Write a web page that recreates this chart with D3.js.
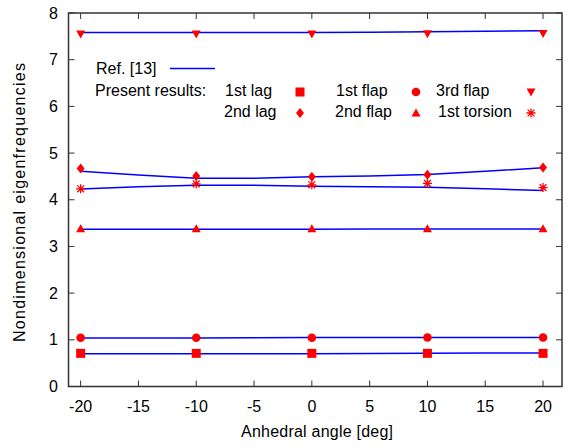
<!DOCTYPE html>
<html>
<head>
<meta charset="utf-8">
<script src="https://cdn.jsdelivr.net/npm/d3@7"></script>
<style>
  body { margin: 0; background: #fff; }
  svg { display: block; font-family: "Liberation Sans", Arial, sans-serif; }
</style>
</head>
<body>
<svg id="chart" width="568" height="446"></svg>
<script>
// angles for present results and for the reference curves
const angles = [-20, -10, 0, 10, 20];
const refAngles = [-20, -15, -10, -5, 0, 5, 10, 15, 20];

// Ref. [13] (blue lines)
const refLag1 = [0.70, 0.70, 0.70, 0.70, 0.70, 0.705, 0.71, 0.715, 0.72];
const refFlap1 = [1.04, 1.04, 1.04, 1.045, 1.05, 1.05, 1.05, 1.05, 1.05];
const refFlap2 = [3.37, 3.37, 3.37, 3.37, 3.37, 3.375, 3.375, 3.375, 3.375];
const refTors1 = [4.23, 4.28, 4.31, 4.31, 4.29, 4.28, 4.27, 4.235, 4.20];
const refLag2 = [4.61, 4.53, 4.46, 4.46, 4.49, 4.51, 4.54, 4.61, 4.685];
const refFlap3 = [7.585, 7.585, 7.585, 7.585, 7.585, 7.59, 7.60, 7.61, 7.62];

// Present results (red markers)
const presLag1 = [0.71, 0.71, 0.71, 0.71, 0.71];
const presFlap1 = [1.045, 1.045, 1.045, 1.05, 1.05];
const presFlap2 = [3.38, 3.38, 3.38, 3.38, 3.38];
const presTors1 = [4.235, 4.34, 4.32, 4.35, 4.26];
const presLag2 = [4.67, 4.51, 4.49, 4.535, 4.69];
const presFlap3 = [7.55, 7.55, 7.55, 7.555, 7.56];

const xTicks = [-20, -15, -10, -5, 0, 5, 10, 15, 20];
const yTicks = [0, 1, 2, 3, 4, 5, 6, 7, 8];

const svg = d3.select("#chart");
const plotL = 68.5, plotR = 562, plotT = 13, plotB = 386.5;

const x = d3.scaleLinear().domain([-21.05, 21.64]).range([plotL, plotR]);
const y = d3.scaleLinear().domain([0, 8]).range([plotB, plotT]);

const frameColor = "#333";

// ticks (inward, mirrored)
const tk = 6;
const tg = svg.append("g").attr("stroke", frameColor).attr("stroke-width", 1);
xTicks.forEach(v => {
    tg.append("line").attr("x1", x(v)).attr("x2", x(v)).attr("y1", plotB).attr("y2", plotB - tk);
    tg.append("line").attr("x1", x(v)).attr("x2", x(v)).attr("y1", plotT).attr("y2", plotT + tk);
});
yTicks.forEach(v => {
    tg.append("line").attr("x1", plotL).attr("x2", plotL + tk).attr("y1", y(v)).attr("y2", y(v));
    tg.append("line").attr("x1", plotR).attr("x2", plotR - tk).attr("y1", y(v)).attr("y2", y(v));
});

svg.append("rect")
    .attr("x", plotL).attr("y", plotT)
    .attr("width", plotR - plotL).attr("height", plotB - plotT)
    .attr("fill", "none").attr("stroke", frameColor).attr("stroke-width", 1.5);

// tick labels
svg.append("g").selectAll("text").data(xTicks).join("text")
    .attr("x", d => x(d)).attr("y", 412)
    .attr("text-anchor", "middle").attr("font-size", 16).attr("fill", "#000")
    .text(d => d);
svg.append("g").selectAll("text").data(yTicks).join("text")
    .attr("x", 58).attr("y", d => y(d) + 5.5)
    .attr("text-anchor", "end").attr("font-size", 16).attr("fill", "#000")
    .text(d => d);

// axis titles
svg.append("text")
    .attr("x", 317).attr("y", 437)
    .attr("text-anchor", "middle").attr("font-size", 16)
    .attr("textLength", 152).attr("lengthAdjust", "spacing")
    .text("Anhedral angle [deg]");
svg.append("text")
    .attr("transform", "translate(25,202.5) rotate(-90)")
    .attr("text-anchor", "middle").attr("font-size", 16)
    .attr("textLength", 279).attr("lengthAdjust", "spacing")
    .text("Nondimensional eigenfrequencies");

// reference lines
const line = d3.line().x(d => x(d[0])).y(d => y(d[1]));
[refLag1, refFlap1, refFlap2, refTors1, refLag2, refFlap3].forEach(vals => {
    svg.append("path")
        .datum(refAngles.map((a, i) => [a, vals[i]]))
        .attr("d", line)
        .attr("fill", "none").attr("stroke", "#0000ff").attr("stroke-width", 1.5);
});

// marker drawing
function drawMarker(g, type, cx, cy) {
    const red = "#ff0000";
    if (type === "square") {
        g.append("rect").attr("x", cx - 4.5).attr("y", cy - 4.5).attr("width", 9).attr("height", 9).attr("fill", red);
    } else if (type === "circle") {
        g.append("circle").attr("cx", cx).attr("cy", cy).attr("r", 4.3).attr("fill", red);
    } else if (type === "triUp") {
        g.append("path").attr("d", `M${cx},${cy - 4.5}L${cx + 4.5},${cy + 3.5}L${cx - 4.5},${cy + 3.5}Z`).attr("fill", red);
    } else if (type === "triDown") {
        g.append("path").attr("d", `M${cx},${cy + 4.5}L${cx + 4.5},${cy - 3.5}L${cx - 4.5},${cy - 3.5}Z`).attr("fill", red);
    } else if (type === "diamond") {
        g.append("path").attr("d", `M${cx},${cy - 5}L${cx + 4},${cy}L${cx},${cy + 5}L${cx - 4},${cy}Z`).attr("fill", red);
    } else if (type === "star") {
        const r = 4.5, d = 3.4;
        const p = `M${cx - r},${cy}L${cx + r},${cy}M${cx},${cy - r}L${cx},${cy + r}` +
            `M${cx - d},${cy - d}L${cx + d},${cy + d}M${cx - d},${cy + d}L${cx + d},${cy - d}`;
        g.append("path").attr("d", p).attr("stroke", red).attr("stroke-width", 1.3).attr("fill", "none");
    }
}

const series = [
    { vals: presLag1, type: "square" },
    { vals: presFlap1, type: "circle" },
    { vals: presFlap2, type: "triUp" },
    { vals: presTors1, type: "star" },
    { vals: presLag2, type: "diamond" },
    { vals: presFlap3, type: "triDown" }
];
const mg = svg.append("g");
series.forEach(s => {
    angles.forEach((a, i) => drawMarker(mg, s.type, x(a), y(s.vals[i])));
});

// legend
const lg = svg.append("g").attr("font-size", 16).attr("fill", "#000");
lg.append("text").attr("x", 96).attr("y", 74).text("Ref. [13]");
lg.append("line").attr("x1", 170).attr("x2", 215).attr("y1", 68.5).attr("y2", 68.5)
    .attr("stroke", "#0000ff").attr("stroke-width", 1.5);
lg.append("text").attr("x", 95).attr("y", 96).text("Present results:");

const legendItems = [
    { label: "1st lag", tx: 225, mx: 300, row: 0, type: "square" },
    { label: "1st flap", tx: 336, mx: 416, row: 0, type: "circle" },
    { label: "3rd flap", tx: 436, mx: 531, row: 0, type: "triDown" },
    { label: "2nd lag", tx: 224, mx: 300, row: 1, type: "diamond" },
    { label: "2nd flap", tx: 335, mx: 416, row: 1, type: "triUp" },
    { label: "1st torsion", tx: 438, mx: 531, row: 1, type: "star" }
];
legendItems.forEach(it => {
    const by = it.row === 0 ? 96 : 117;
    lg.append("text").attr("x", it.tx).attr("y", by).text(it.label);
    drawMarker(lg, it.type, it.mx, by - 4);
});
</script>
</body>
</html>
